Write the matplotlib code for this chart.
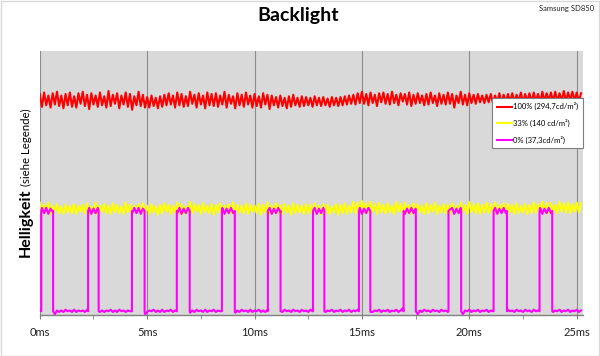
import numpy as np
import matplotlib
matplotlib.use("Agg")
import matplotlib.pyplot as plt
from matplotlib.patches import Rectangle

plt.rcParams['font.family'] = ['Lato', 'DejaVu Sans']

# ---------------- data ----------------
sample_step_ms = 0.1
x_max_ms = 25.27
x_ticks_ms = [0, 5, 10, 15, 20, 25]
x_tick_labels = ["0ms", "5ms", "10ms", "15ms", "20ms", "25ms"]
x_minor_ticks_ms = [2.5, 7.5, 12.5, 17.5, 22.5]

title = "Backlight"
device = "Samsung SD850"
series_labels = ["100% (294,7cd/m²)", "33% (140 cd/m²)", "0% (37,3cd/m²)"]

red_values = [
    293, 276, 295, 278, 291, 275, 294, 279, 296, 277,
    291, 274, 293, 278, 295, 276, 290, 275, 294, 280,
    296, 277, 292, 273, 294, 279, 291, 276, 295, 278,
    290, 275, 297, 277, 292, 280, 294, 274, 291, 279,
    295, 276, 293, 272, 290, 278, 296, 277, 292, 275,
    289, 275, 291, 277, 288, 274, 290, 276, 292, 278,
    294, 279, 291, 275, 295, 278, 293, 276, 290, 277,
    296, 280, 292, 275, 294, 279, 291, 274, 295, 278,
    293, 277, 294, 276, 291, 279, 296, 275, 292, 280,
    290, 274, 294, 278, 292, 276, 295, 279, 291, 275,
    293, 277, 290, 275, 294, 279, 292, 273, 291, 278,
    289, 275, 291, 277, 288, 274, 290, 276, 292, 278,
    288, 276, 290, 277, 289, 278, 288, 276, 290, 278,
    288, 277, 289, 278, 287, 276, 289, 278, 288, 277,
    289, 278, 290, 279, 291, 280, 292, 279, 294, 281,
    296, 280, 293, 278, 295, 281, 292, 277, 294, 282,
    295, 280, 293, 279, 296, 281, 292, 278, 294, 283,
    293, 279, 295, 277, 292, 280, 294, 281, 291, 278,
    293, 279, 295, 281, 291, 277, 294, 280, 292, 279,
    295, 280, 293, 275, 291, 281, 296, 279, 292, 278,
    294, 281, 292, 280, 293, 282, 291, 281, 292, 282,
    293, 281, 291, 282, 294, 281, 292, 282, 293, 283,
    294, 282, 292, 283, 295, 282, 293, 283, 294, 282,
    295, 283, 293, 282, 296, 283, 294, 284, 295, 283,
    296, 283, 294, 284, 297, 283, 295, 285, 296, 284,
    295, 283, 294,
]

yellow_values = [
    149, 135, 146, 137, 149, 134, 145, 137, 147, 135,
    144, 134, 146, 136, 145, 135, 147, 134, 145, 137,
    146, 135, 148, 134, 144, 136, 149, 133, 145, 137,
    147, 135, 145, 134, 148, 136, 146, 135, 144, 134,
    149, 136, 146, 133, 145, 137, 147, 134, 148, 135,
    145, 134, 147, 136, 144, 133, 146, 135, 148, 137,
    146, 134, 145, 136, 149, 135, 147, 134, 144, 136,
    150, 135, 147, 137, 146, 134, 148, 136, 145, 135,
    147, 133, 146, 136, 148, 134, 145, 137, 147, 135,
    149, 134, 146, 136, 145, 135, 148, 134, 146, 137,
    145, 135, 147, 133, 146, 136, 149, 134, 145, 136,
    148, 135, 146, 134, 147, 136, 145, 133, 148, 135,
    146, 136, 145, 134, 147, 135, 146, 134, 148, 136,
    145, 133, 147, 135, 146, 134, 144, 136, 147, 133,
    146, 135, 148, 134, 145, 136, 150, 135, 149, 137,
    151, 136, 148, 135, 150, 137, 147, 134, 149, 136,
    146, 135, 148, 136, 145, 134, 150, 137, 147, 135,
    149, 136, 146, 134, 148, 135, 147, 136, 145, 134,
    148, 135, 146, 137, 149, 134, 145, 136, 147, 135,
    146, 134, 148, 136, 145, 135, 149, 137, 146, 134,
    150, 136, 147, 135, 148, 134, 146, 136, 149, 135,
    147, 136, 149, 134, 146, 137, 148, 135, 147, 136,
    146, 134, 148, 135, 145, 136, 147, 134, 146, 135,
    149, 136, 147, 135, 150, 137, 148, 135, 149, 136,
    146, 135, 150, 137, 148, 136, 149, 135, 147, 137,
    149, 136, 148,
]

# magenta (0%): PWM pulses
pulse_start_ms = [0.07, 2.25, 4.29, 6.38, 8.48, 10.62, 12.72, 14.86, 16.94, 19.03, 21.13, 23.27]
pulse_end_ms = [0.62, 2.74, 4.88, 6.98, 9.08, 11.21, 13.25, 15.39, 17.51, 19.62, 21.75, 23.86]
magenta_high = 138
magenta_low = 5
magenta_noise = [
    1, 4, -3, 4, -4, 3, -1, -4, 1, -1,
    1, -1, 2, 0, 1, -1, 2, -1, 1, 0,
    1, -1, 2, 4, -4, 3, -3, 4, -1, 1,
    -1, 1, 0, 2, -1, 1, -1, 2, 0, 1,
    -1, 1, 0, -3, 4, -3, 4, -4, 3, -4,
    -1, 1, 0, 2, -1, 1, -1, 2, -1, 1,
    0, 2, -1, 1, -3, 4, -4, 3, -3, 4,
    -2, 1, -1, 2, 0, 1, -1, 2, -1, 1,
    0, 2, -1, 1, 0, 4, -4, 3, -3, 4,
    -3, -2, 1, -1, 2, 0, 1, -1, 2, -1,
    1, 0, 2, -1, 1, -1, 2, 4, -4, 3,
    -3, 4, -1, -1, 2, 0, 1, -1, 2, 0,
    1, -1, 2, 0, 1, -1, 2, 0, 4, -4,
    3, -3, 4, -1, 1, 0, 2, -1, 1, 0,
    2, -1, 1, 0, 2, -1, 1, 0, 2, 4,
    -4, 3, -3, 4, -1, -1, 1, 0, 2, -1,
    1, 0, 2, -1, 1, 0, 2, -1, 1, 4,
    -4, 3, -3, 4, -3, 3, -4, 1, -1, 2,
    0, 1, -1, 2, 0, 1, -1, 2, 0, 1,
    -1, 2, 4, -4, 3, -3, 4, -4, 1, 0,
    2, -1, 1, 0, 2, -1, 1, 0, 2, -1,
    1, 0, 4, -4, 3, -3, 4, -3, 2, 0,
    1, -1, 2, 0, 1, -1, 2, 0, 1, -1,
    2, 0, 1, 4, -4, 3, -3, 4, -3, -1,
    1, 0, 2, -1, 1, 0, 2, -1, 1, 0,
    2, -1, 1,
]

# ---------------- build series ----------------
t = np.arange(len(red_values)) * sample_step_ms

pts = []
for i, ti in enumerate(t):
    inside = any(s <= ti < e for s, e in zip(pulse_start_ms, pulse_end_ms))
    lvl = magenta_high if inside else magenta_low
    pts.append((ti, 0, lvl + magenta_noise[i]))
for s, e in zip(pulse_start_ms, pulse_end_ms):
    pts.append((s, 1, magenta_low))
    pts.append((s, 2, magenta_high))
    pts.append((e, 1, magenta_high))
    pts.append((e, 2, magenta_low))
pts.sort(key=lambda p: (p[0], p[1]))
mt = [p[0] for p in pts]
mv = [p[2] for p in pts]

# ---------------- figure ----------------
fig = plt.figure(figsize=(6.0, 3.56), dpi=100)
fig.patch.set_facecolor("white")
fig.patches.append(Rectangle((0.001, 0.001), 0.997, 0.996, transform=fig.transFigure,
                             fill=False, edgecolor="#d9d9d9", linewidth=1.0))

ax = fig.add_axes([39.8 / 600, 1 - 315 / 356, (582.5 - 39.8) / 600, (315 - 51) / 356])
ax.set_facecolor("#d9d9d9")

ax.plot(t, red_values, color="#ff0000", lw=1.5, label=series_labels[0], zorder=3)
ax.plot(t, yellow_values, color="#ffff00", lw=1.5, label=series_labels[1], zorder=3)
ax.plot(mt, mv, color="#ff00ff", lw=1.5, label=series_labels[2], zorder=4)

ax.set_xlim(0, x_max_ms)
ax.set_ylim(0, 350)
ax.set_yticks([])
ax.set_xticks(x_ticks_ms)
ax.set_xticklabels(x_tick_labels)
ax.set_xticks(x_minor_ticks_ms, minor=True)
ax.grid(axis="x", which="major", color="#8c8c8c", lw=0.8)
ax.set_axisbelow(True)
for side in ["top", "right", "left"]:
    ax.spines[side].set_visible(False)
ax.spines["bottom"].set_color("#808080")
ax.spines["bottom"].set_linewidth(1.0)
ax.tick_params(axis="x", which="both", direction="out", length=3, color="#808080",
               labelsize=8, labelcolor="#202020", pad=6)

leg = ax.legend(loc="upper right", bbox_to_anchor=(1.0, 0.823), fontsize=5.5,
                frameon=True, fancybox=False, edgecolor="#7f7f7f", framealpha=1,
                handlelength=2.0, handletextpad=0.1, labelspacing=1.1,
                borderpad=0.6, borderaxespad=0)
leg.get_frame().set_linewidth(0.8)

fig.text(298 / 600, 1 - 16 / 356, title, ha="center", va="center",
         fontsize=14, fontweight="bold", color="black")
fig.text(594 / 600, 1 - 8 / 356, device, ha="right", va="center",
         fontsize=5.5, color="#202020")

big = fig.text(29.8 / 600, 1 - 257 / 356, "Helligkeit", rotation=90, rotation_mode="anchor",
               ha="left", va="baseline", fontsize=11.5, fontweight="bold", color="black")
fig.canvas.draw()
bb = big.get_window_extent(renderer=fig.canvas.get_renderer())
top_y = bb.y1 / fig.bbox.height
fig.text(29.8 / 600, top_y + 3 / 356, "(siehe Legende)", rotation=90, rotation_mode="anchor",
         ha="left", va="baseline", fontsize=8.2, color="black")

fig.savefig("out.png", dpi=100)
